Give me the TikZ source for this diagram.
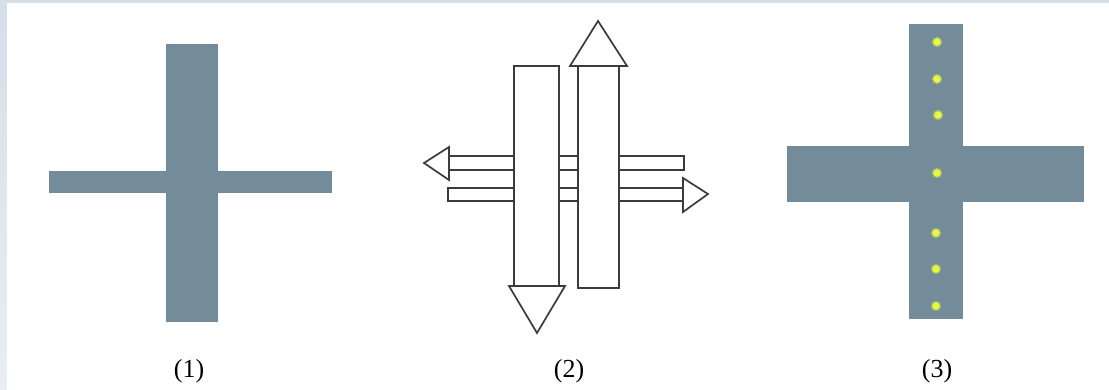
\documentclass[tikz,border=0pt]{standalone}
\usepackage{fontspec}
\setmainfont{Liberation Serif}
\definecolor{slate}{RGB}{116,139,154}
\definecolor{frameA}{RGB}{214,222,232}
\definecolor{frameB}{RGB}{234,238,243}
\definecolor{lineg}{RGB}{60,60,60}
\definecolor{dotc}{RGB}{236,244,70}
\definecolor{dotring}{RGB}{160,190,110}
\tikzset{
  bar/.style={fill=slate, draw=none},
  blk/.style={draw=lineg, fill=white, line width=1.7pt, line join=miter},
  lamp/.style={circle, fill=dotc, draw=dotring, line width=1.2pt, minimum size=9pt, inner sep=0pt},
  figlabel/.style={font=\fontsize{26}{30}\selectfont, inner sep=0pt}
}
\begin{document}
\begin{tikzpicture}[x=1pt,y=-1pt]
\useasboundingbox (0,0) rectangle (1109,390);
% frame
\fill[frameA] (0,0) rectangle (1109,3);
\shade[top color=frameA, bottom color=frameB] (0,0) rectangle (7,390);
\fill[white] (7,3) rectangle (1109,390);

% (1)
\fill[bar] (49,171) rectangle (332,193);
\fill[bar] (166,44) rectangle (218,322);
\node[figlabel] (c1) at (189,371) {(1)};

% (2) horizontal arrows behind
\draw[blk] (449,156) rectangle (684,170);
\draw[blk] (449,147) -- (424,163) -- (449,180) -- cycle;
\draw[blk] (448,188) rectangle (683,201);
\draw[blk] (683,178) -- (708,194) -- (683,212) -- cycle;
% vertical arrows
\draw[blk] (514,66) rectangle (559,286);
\draw[blk] (509,286) -- (565,286) -- (537,333) -- cycle;
\draw[blk] (578,66) rectangle (619,288);
\draw[blk] (570,66) -- (627,66) -- (598,21) -- cycle;
\node[figlabel] (c2) at (569,371) {(2)};

% (3)
\fill[bar] (787,146) rectangle (1084,202);
\fill[bar] (909,24) rectangle (963,319);
\foreach \i/\x/\y in {1/937/42,2/937/79,3/938/115,4/937/173,5/936/233,6/936/269,7/936/306}
  \node[lamp] (d\i) at (\x,\y) {};
\node[figlabel] (c3) at (937,371) {(3)};
\end{tikzpicture}
\end{document}
